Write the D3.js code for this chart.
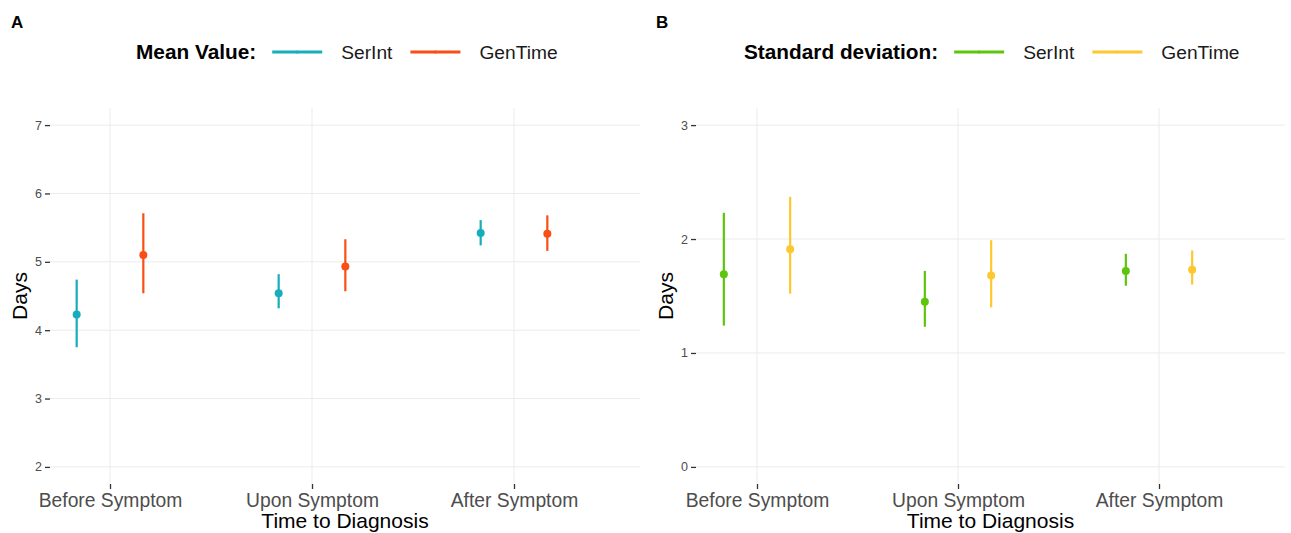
<!DOCTYPE html>
<html>
<head>
<meta charset="utf-8">
<script src="https://cdn.jsdelivr.net/npm/d3@7"></script>
<style>
  body { margin: 0; background: #fff; }
  svg { display: block; font-family: "Liberation Sans", Arial, sans-serif; }
</style>
</head>
<body>
<div id="chart"></div>
<script>
// ── Data ─────────────────────────────────────────────────────
const categories = ['Before Symptom', 'Upon Symptom', 'After Symptom'];
const seriesNames = ['SerInt', 'GenTime'];

// Panel A: mean value (days) with interval
const meanSerInt  = [4.23, 4.54, 5.42];
const meanSerIntLo = [3.75, 4.32, 5.24];
const meanSerIntHi = [4.74, 4.82, 5.61];
const meanGenTime  = [5.10, 4.93, 5.41];
const meanGenTimeLo = [4.54, 4.57, 5.16];
const meanGenTimeHi = [5.71, 5.33, 5.68];

// Panel B: standard deviation (days) with interval
const sdSerInt  = [1.69, 1.45, 1.72];
const sdSerIntLo = [1.24, 1.23, 1.59];
const sdSerIntHi = [2.23, 1.72, 1.87];
const sdGenTime  = [1.91, 1.68, 1.73];
const sdGenTimeLo = [1.52, 1.40, 1.60];
const sdGenTimeHi = [2.37, 1.99, 1.90];

const ticksA = [2, 3, 4, 5, 6, 7];
const ticksB = [0, 1, 2, 3];

const W = 1291, H = 533;
const GRID = '#EBEBEB';
const TICK_TXT = '#4D4D4D';

const svg = d3.select('#chart').append('svg')
  .attr('width', W).attr('height', H);

function rows(vals, lo, hi) {
  return categories.map((c, i) => ({ cat: c, v: vals[i], lo: lo[i], hi: hi[i] }));
}

// ── Panel ────────────────────────────────────────────────────
function drawPanel(o) {
  const { left, right, top, bottom } = o.box;

  const x = d3.scalePoint().domain(categories).range(o.xRange);
  const step = x.step();
  const dodge = { SerInt: -0.165 * step, GenTime: 0.165 * step };
  const y = d3.scaleLinear().domain(o.yDomain).range([bottom, top]);

  const g = svg.append('g');

  // grid
  g.selectAll('line.hgrid').data(o.ticks).join('line')
    .attr('x1', left).attr('x2', right)
    .attr('y1', d => y(d)).attr('y2', d => y(d))
    .attr('stroke', GRID).attr('stroke-width', 1);
  g.selectAll('line.vgrid').data(categories).join('line')
    .attr('x1', d => x(d)).attr('x2', d => x(d))
    .attr('y1', top).attr('y2', bottom)
    .attr('stroke', GRID).attr('stroke-width', 1);

  // y axis
  const yAxis = g.append('g')
    .attr('transform', `translate(${left},0)`)
    .call(d3.axisLeft(y).tickValues(o.ticks).tickSize(5).tickPadding(3).tickFormat(d3.format('d')));
  yAxis.select('.domain').remove();
  yAxis.selectAll('line').attr('stroke', '#333').attr('stroke-width', 1.3);
  yAxis.selectAll('text').attr('fill', TICK_TXT).attr('font-size', 12.5)
    .attr('font-family', '"Liberation Sans", Arial, sans-serif');

  // x axis
  const xAxis = g.append('g')
    .attr('transform', `translate(0,${bottom})`)
    .call(d3.axisBottom(x).tickSize(5).tickPadding(4));
  xAxis.select('.domain').remove();
  xAxis.selectAll('line').attr('stroke', '#333').attr('stroke-width', 1.3);
  xAxis.selectAll('text').attr('fill', TICK_TXT).attr('font-size', 19.3)
    .attr('font-family', '"Liberation Sans", Arial, sans-serif');

  // axis titles
  g.append('text')
    .attr('x', (left + right) / 2).attr('y', 528)
    .attr('text-anchor', 'middle').attr('font-size', 21).attr('fill', '#000')
    .text('Time to Diagnosis');
  g.append('text')
    .attr('transform', `translate(${o.daysX},${(top + bottom) / 2}) rotate(-90)`)
    .attr('text-anchor', 'middle').attr('font-size', 21).attr('fill', '#000')
    .text('Days');

  // point ranges
  o.series.forEach(s => {
    const sg = g.append('g');
    sg.selectAll('line').data(s.data).join('line')
      .attr('x1', d => x(d.cat) + dodge[s.name]).attr('x2', d => x(d.cat) + dodge[s.name])
      .attr('y1', d => y(d.lo)).attr('y2', d => y(d.hi))
      .attr('stroke', s.color).attr('stroke-width', 2.2);
    sg.selectAll('circle').data(s.data).join('circle')
      .attr('cx', d => x(d.cat) + dodge[s.name]).attr('cy', d => y(d.v))
      .attr('r', 4).attr('fill', s.color);
  });

  // tag
  svg.append('text')
    .attr('x', o.tagX).attr('y', 28)
    .attr('font-size', 17).attr('font-weight', 700).text(o.tag);

  // legend
  const lg = svg.append('g').attr('transform', `translate(${o.legendX},52)`);
  const title = lg.append('text')
    .attr('x', 0).attr('y', 7)
    .attr('font-size', 20.8).attr('font-weight', 700).text(o.legendTitle);
  let lx = title.node().getComputedTextLength() + 16;
  o.series.forEach(s => {
    lg.append('line').attr('x1', lx).attr('x2', lx + 50).attr('y1', 0).attr('y2', 0)
      .attr('stroke', s.color).attr('stroke-width', 3);
    lg.append('circle').attr('cx', lx + 25).attr('cy', 0).attr('r', 1.5).attr('fill', s.color);
    const t = lg.append('text').attr('x', lx + 69).attr('y', 7)
      .attr('font-size', 19.2).attr('fill', '#1a1a1a').text(s.name);
    lx += 69 + t.node().getComputedTextLength() + 18;
  });
}

drawPanel({
  tag: 'A', tagX: 11,
  box: { left: 50, right: 640, top: 108, bottom: 484 },
  xRange: [110, 514],
  yDomain: [1.75, 7.25],
  ticks: ticksA,
  daysX: 27,
  legendX: 136,
  legendTitle: 'Mean Value:',
  series: [
    { name: 'SerInt',  color: '#16AEBE', data: rows(meanSerInt, meanSerIntLo, meanSerIntHi) },
    { name: 'GenTime', color: '#F94F14', data: rows(meanGenTime, meanGenTimeLo, meanGenTimeHi) },
  ],
});

drawPanel({
  tag: 'B', tagX: 656,
  box: { left: 696, right: 1285, top: 108, bottom: 484 },
  xRange: [757, 1159],
  yDomain: [-0.15, 3.15],
  ticks: ticksB,
  daysX: 673,
  legendX: 744,
  legendTitle: 'Standard deviation:',
  series: [
    { name: 'SerInt',  color: '#5DC50C', data: rows(sdSerInt, sdSerIntLo, sdSerIntHi) },
    { name: 'GenTime', color: '#FDC82F', data: rows(sdGenTime, sdGenTimeLo, sdGenTimeHi) },
  ],
});
</script>
</body>
</html>
